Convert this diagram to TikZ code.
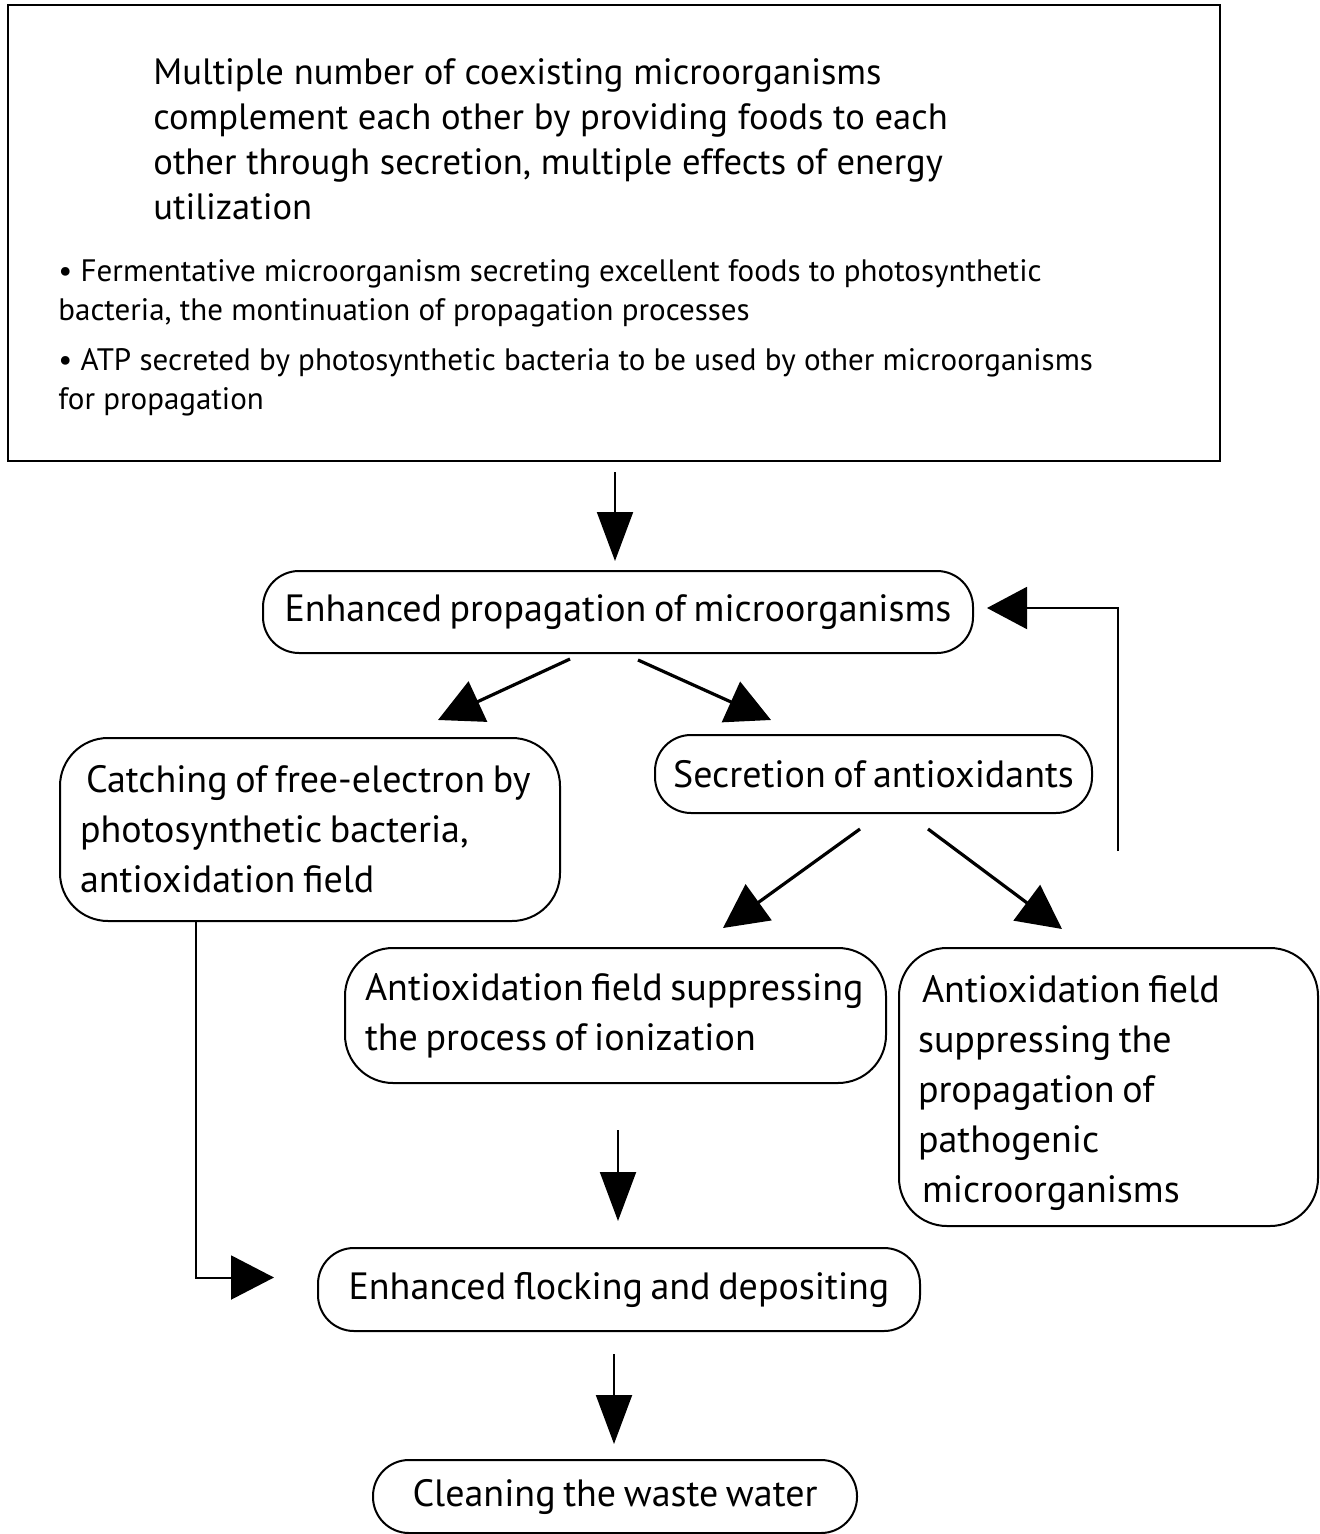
\documentclass[tikz,border=0pt]{standalone}
\usepackage{fontspec}
\setmainfont{PT Sans}
\newfontfamily\boxfont{PT Sans}[WordSpace=0.75]
\usetikzlibrary{arrows.meta,calc}
\begin{document}
\begin{tikzpicture}[x=0.5pt,y=-0.5pt,
  box/.style={draw=black,line width=1pt,rounded corners=18pt,inner sep=0pt,font=\boxfont\fontsize{19}{25}\selectfont},
  bigbox/.style={box,rounded corners=24pt,align=left},
  vline/.style={line width=1pt,-{Triangle[length=24.5pt,width=18pt]}},
  dline/.style={line width=1.6pt,-{Triangle[length=22pt,width=22pt]}},
  txt/.style={inner sep=0pt,anchor=north west,align=left}]
\useasboundingbox (0,0) rectangle (1320,1534);
% top box
\node[draw=black,line width=1pt,minimum width=606pt,minimum height=228pt,inner sep=0pt] (top) at (614,233) {};
\node[txt,font=\fontsize{18.3}{22.5}\selectfont] (para) at (153,58) {Multiple number of coexisting microorganisms\\complement each other by providing foods to each\\other through secretion, multiple effects of energy\\utilization};
\node[txt,font=\fontsize{15.5}{19.5}\selectfont] (bula) at (58,259) {• Fermentative microorganism secreting excellent foods to photosynthetic\\bacteria, the montinuation of propagation processes};
\node[txt,font=\fontsize{15.5}{19.5}\selectfont] (bulb) at (58,348) {• ATP secreted by photosynthetic bacteria to be used by other microorganisms\\for propagation};
% boxes
\node[box,minimum width=355pt,minimum height=41pt] (prop) at (618,612) {Enhanced propagation of microorganisms};
\node[bigbox,minimum width=250pt,minimum height=91.5pt,text width=230pt] (catch) at (310,829.5) {\spaceskip=0pt\xspaceskip=0pt\relax\mbox{\hspace{3pt}Catching of free-electron by}\\\mbox{photosynthetic bacteria,}\\\mbox{antioxidation field}};
\node[box,minimum width=218.5pt,minimum height=39pt] (secr) at (873.5,774) {Secretion of antioxidants};
\node[bigbox,minimum width=270.5pt,minimum height=67.5pt,text width=250.5pt] (ion) at (615.5,1015.5) {\spaceskip=0pt\xspaceskip=0pt\relax\mbox{Antioxidation field suppressing}\\\mbox{the process of ionization}};
\node[bigbox,minimum width=209.5pt,minimum height=139pt,text width=190.5pt] (path) at (1108.5,1087) {\spaceskip=0pt\xspaceskip=0pt\relax\mbox{\rule{0pt}{20pt}\hspace{2pt}Antioxidation field}\\\mbox{suppressing the}\\\mbox{propagation of}\\\mbox{pathogenic}\\\mbox{\hspace{2pt}microorganisms}};
\node[box,minimum width=301pt,minimum height=41.5pt] (flock) at (619,1289.5) {Enhanced flocking and depositing};
\node[box,minimum width=242pt,minimum height=36.5pt] (clean) at (615,1496.5) {Cleaning the waste water};
% connectors
\draw[vline] ($(top.south)+(1,10)$) -- ($(prop.north)+(-3,-9)$);
\draw[dline] ($(prop.south)+(-48,5)$) -- ($(catch.north)+(128,-17)$);
\draw[dline] ($(prop.south)+(20,6)$) -- ($(secr.north)+(-102.5,-14)$);
\draw[dline] ($(secr.south)+(-13.5,15)$) -- ($(ion.north)+(107.5,-19)$);
\draw[dline] ($(secr.south)+(54.5,15)$) -- ($(path.north)+(-46.5,-18)$);
\coordinate (fbstart) at (1118,851);
\draw[vline,-{Triangle[length=20pt,width=21pt]}] (fbstart) |- ($(prop.east)+(13,-4)$);
\draw[vline] ($(ion.south)+(2.5,46)$) -- ($(flock.north)+(-1,-26)$);
\draw[vline,-{Triangle[length=21.5pt,width=22pt]}] ($(catch.south)+(-114,0)$) |- ($(flock.west)+(-43,-12)$);
\draw[vline] ($(flock.south)+(-5,22)$) -- ($(clean.north)+(-1,-15)$);
\end{tikzpicture}
\end{document}
